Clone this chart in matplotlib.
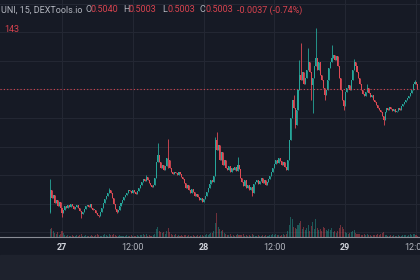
import matplotlib.pyplot as plt
import numpy as np

plt.rcParams['font.family'] = ['Roboto', 'DejaVu Sans']

# 15m candles from the 26th 22:00 to the 29th 12:15, prices in 1e-4 units
closes = [
    4297, 4241, 4262, 4206, 4227, 4185, 4213, 4171, 4136, 4157,
    4185, 4171, 4192, 4178, 4199, 4185, 4164, 4178, 4192, 4171,
    4150, 4129, 4143, 4164, 4185, 4192, 4178, 4199, 4171, 4157,
    4157, 4136, 4122, 4115, 4143, 4171, 4206, 4234, 4255, 4276,
    4297, 4276, 4241, 4199, 4164, 4143, 4157, 4185, 4206, 4227,
    4248, 4262, 4276, 4297, 4290, 4276, 4297, 4283, 4269, 4290,
    4311, 4332, 4353, 4374, 4360, 4388, 4367, 4346, 4332, 4318,
    4332, 4381, 4493, 4542, 4493, 4451, 4472, 4437, 4465, 4521,
    4507, 4451, 4423, 4409, 4423, 4416, 4402, 4423, 4409, 4388,
    4374, 4346, 4311, 4332, 4297, 4276, 4304, 4283, 4255, 4269,
    4248, 4227, 4241, 4213, 4234, 4255, 4283, 4311, 4339, 4367,
    4353, 4395, 4647, 4577, 4612, 4507, 4563, 4472, 4507, 4451,
    4437, 4465, 4423, 4451, 4437, 4458, 4430, 4472, 4444, 4381,
    4353, 4325, 4367, 4311, 4332, 4297, 4318, 4276, 4339, 4353,
    4367, 4339, 4360, 4381, 4346, 4367, 4332, 4353, 4374, 4395,
    4423, 4451, 4479, 4507, 4486, 4521, 4500, 4472, 4493, 4458,
    4437, 4507, 4647, 4801, 4927, 4871, 4752, 4857, 4997, 5102,
    5067, 5123, 5039, 5081, 5137, 5193, 5123, 5032, 5081, 5165,
    5221, 5137, 5193, 5102, 5067, 5011, 4962, 4997, 5067, 5151,
    5193, 5221, 5242, 5207, 5235, 5165, 5081, 4997, 4927, 4885,
    4983, 5011, 5032, 4997, 5067, 5137, 5193, 5165, 5123, 5081,
    5039, 4997, 4969, 4955, 4983, 5011, 4976, 4948, 4962, 4927,
    4913, 4892, 4871, 4857, 4843, 4815, 4787, 4843, 4871, 4857,
    4878, 4864, 4850, 4864, 4843, 4850, 4871, 4857, 4885, 4899,
    4913, 4927, 4941, 4955, 4976, 4997, 5039, 5053, 5040, 5003,
]
first_open = 4143

# notable wick extremes: candle -> (high, low)
wicks = {
    0: (4374, 4136), 8: (None, 4108), 21: (None, 4101), 33: (None, 4108),
    40: (4311, None), 45: (None, 4136), 65: (4402, None), 73: (4626, None),
    80: (4654, 4451), 112: (4668, None), 113: (4703, None), 127: (4528, None),
    137: (None, 4255), 165: (4962, None), 166: (None, 4731), 169: (5207, None),
    170: (5326, None), 175: (5291, None), 177: (None, 4927), 178: (None, 4836),
    180: (5431, None), 186: (None, 4927), 191: (5312, None), 199: (None, 4857),
    206: (5214, None), 215: (5039, None), 226: (None, 4752), 247: (5067, None),
}

volumes = [
    8, 9, 6, 4, 3, 5, 2, 3, 6, 4,
    2, 1, 2, 1, 1, 2, 1, 1, 2, 1,
    2, 3, 1, 1, 2, 1, 1, 1, 2, 1,
    1, 2, 3, 2, 1, 1, 2, 3, 2, 1,
    3, 2, 2, 3, 2, 1, 1, 2, 1, 1,
    1, 1, 2, 1, 1, 2, 1, 1, 1, 2,
    1, 2, 2, 3, 2, 3, 1, 2, 1, 1,
    2, 3, 8, 10, 6, 5, 4, 5, 3, 6,
    9, 5, 3, 2, 2, 3, 1, 2, 1, 2,
    1, 2, 2, 1, 2, 1, 1, 2, 1, 1,
    2, 1, 2, 2, 1, 2, 3, 2, 3, 4,
    4, 6, 14, 24, 10, 8, 6, 7, 4, 3,
    2, 2, 3, 1, 2, 1, 2, 3, 2, 2,
    2, 3, 1, 2, 1, 2, 1, 3, 2, 1,
    1, 2, 1, 1, 2, 1, 2, 1, 1, 2,
    2, 3, 2, 3, 2, 2, 1, 2, 3, 2,
    3, 6, 12, 20, 18, 10, 9, 8, 12, 14,
    16, 8, 10, 7, 9, 12, 6, 11, 15, 8,
    18, 9, 7, 8, 6, 10, 9, 7, 6, 8,
    7, 9, 5, 6, 4, 6, 9, 12, 10, 8,
    5, 4, 3, 4, 5, 6, 7, 4, 3, 3,
    3, 2, 2, 3, 2, 3, 2, 2, 1, 2,
    2, 2, 3, 2, 3, 4, 5, 2, 2, 1,
    1, 2, 1, 2, 1, 1, 2, 1, 1, 2,
    2, 2, 1, 2, 3, 2, 3, 3, 2, 1,
]

xtick_hours = [0, 12, 24, 36, 48, 60]
xtick_labels = ['27', '12:00', '28', '12:00', '29', '12:00']
last_price = 0.5003

BG = '#161a25'
UP = '#26a69a'
DOWN = '#e04b55'
GRID = '#232733'
TXT = '#b2b5be'
RED = '#d9434f'

c = np.array(closes) / 1e4
o = np.concatenate([[first_open / 1e4], c[:-1]])
h = np.maximum(o, c)
l = np.minimum(o, c)
for i, (hi, lo) in wicks.items():
    if hi is not None:
        h[i] = max(h[i], hi / 1e4)
    if lo is not None:
        l[i] = min(l[i], lo / 1e4)
t = np.arange(len(c)) * 0.25 - 2.0  # hours from the 27th 00:00
colors = np.where(c >= o, UP, DOWN)

fig = plt.figure(figsize=(4.2, 2.8), dpi=100, facecolor=BG)
fig.patches.append(plt.Rectangle((0, 0), 1, 25 / 280, transform=fig.transFigure,
                                 color='#1e222d', zorder=0))
ax = fig.add_axes([0, 43 / 280, 1, 237 / 280])
ax.set_facecolor(BG)

# volume underneath
axv = ax.twinx()
axv.bar(t, volumes, width=0.17, color=colors, alpha=0.45, linewidth=0)
axv.set_ylim(0, 240)
axv.axis('off')

ax.vlines(t, l, h, colors=colors, linewidth=0.6)
ax.bar(t, np.maximum(np.abs(c - o), 0.0003), bottom=np.minimum(o, c), width=0.17,
       color=colors, linewidth=0)
ax.axhline(last_price, color=RED, linestyle=(0, (1, 2)), linewidth=0.8)

ax.set_xlim(-62 / 5.9, 358 / 5.9)
ax.set_ylim(0.39675, 0.56265)
ax.set_yticks(np.arange(0.40, 0.57, 0.02))
ax.set_xticks(xtick_hours)
ax.set_xticklabels(xtick_labels)
ax.grid(True, color=GRID, linewidth=0.8)
ax.set_axisbelow(True)
ax.tick_params(axis='y', left=False, labelleft=False)
ax.tick_params(axis='x', length=0, pad=4, labelsize=6.5, labelcolor=TXT)
for lab in ax.get_xticklabels():
    if ':' not in lab.get_text():
        lab.set_fontweight('bold')
        lab.set_color('#d1d4dc')
for s in ['top', 'left', 'right']:
    ax.spines[s].set_visible(False)
ax.spines['bottom'].set_color('#8a8d96')
ax.spines['bottom'].set_linewidth(0.8)

# header legend
hy = 1 - 10 / 280
fs = 6.5
fig.text(1 / 420, hy, 'UNI, 15, DEXTools.io', color=TXT, fontsize=fs, va='center')
for x0, key, val in [(85, 'O', '0.5040'), (123, 'H', '0.5003'),
                     (162, 'L', '0.5003'), (200, 'C', '0.5003')]:
    fig.text(x0 / 420, hy, key, color=TXT, fontsize=fs, va='center')
    fig.text((x0 + 5.8) / 420, hy, val, color=RED, fontsize=fs, va='center')
fig.text(237 / 420, hy, '-0.0037 (-0.74%)', color=RED, fontsize=fs, va='center')
fig.text(4 / 420, 1 - 29 / 280, '143', color=RED, fontsize=fs, va='center')

fig.savefig('out.png', dpi=100, facecolor=BG)
